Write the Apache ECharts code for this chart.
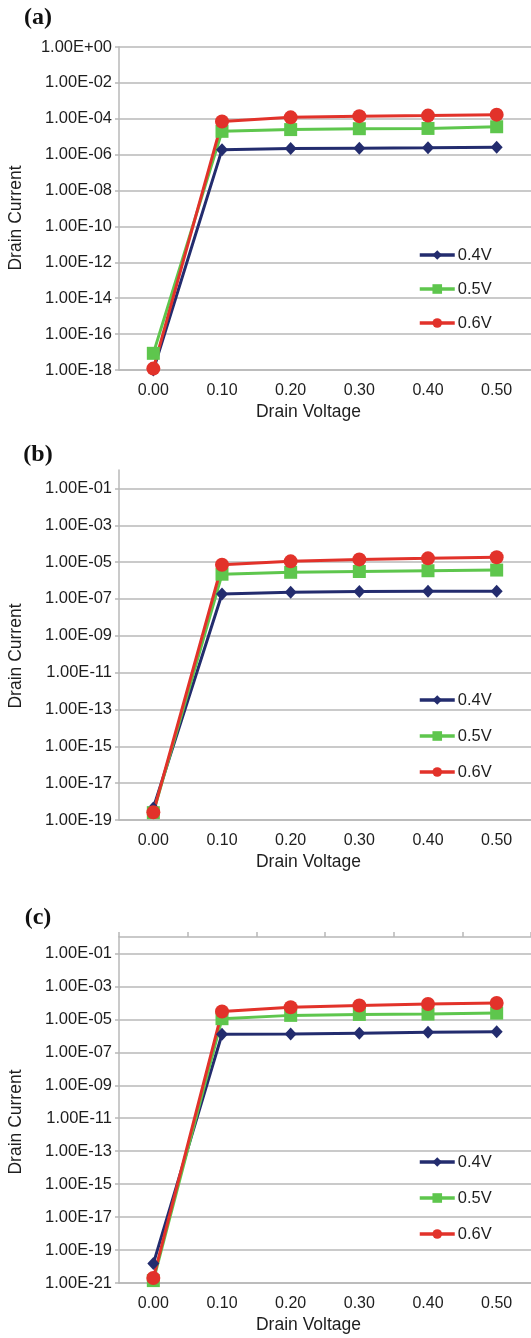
<!DOCTYPE html>
<html>
<head>
<meta charset="utf-8">
<script src="https://cdn.jsdelivr.net/npm/echarts@6/dist/echarts.min.js"></script>
<style>
  html, body { margin: 0; padding: 0; background: #ffffff; }
  #chart { width: 531px; height: 1338px; }
</style>
</head>
<body>
<div id="chart"></div>
<script>
// Drain voltage categories shared by all three panels
const drainVoltage = ['0.00', '0.10', '0.20', '0.30', '0.40', '0.50'];
const seriesNames = ['0.4V', '0.5V', '0.6V'];

// Panel (a) drain current (A)
const currentA_04 = [1.0e-18, 1.9e-6, 2.2e-6, 2.3e-6, 2.4e-6, 2.6e-6];
const currentA_05 = [8.5e-18, 2.0e-5, 2.5e-5, 2.8e-5, 2.9e-5, 3.6e-5];
const currentA_06 = [1.2e-18, 7.0e-5, 1.2e-4, 1.4e-4, 1.5e-4, 1.7e-4];

// Panel (b) drain current (A)
const currentB_04 = [4.5e-19, 1.85e-7, 2.3e-7, 2.5e-7, 2.6e-7, 2.6e-7];
const currentB_05 = [2.5e-19, 2.2e-6, 2.8e-6, 3.1e-6, 3.4e-6, 3.7e-6];
const currentB_06 = [2.6e-19, 7.2e-6, 1.1e-5, 1.4e-5, 1.6e-5, 1.85e-5];

// Panel (c) drain current (A)
const currentC_04 = [1.5e-20, 1.25e-6, 1.3e-6, 1.45e-6, 1.65e-6, 1.8e-6];
const currentC_05 = [1.4e-21, 1.1e-5, 1.75e-5, 2.0e-5, 2.1e-5, 2.4e-5];
const currentC_06 = [2.0e-21, 3.0e-5, 5.4e-5, 7.0e-5, 8.5e-5, 9.8e-5];

// Tick values on the log current axes
const ticksA = [1e-18, 1e-16, 1e-14, 1e-12, 1e-10, 1e-8, 1e-6, 1e-4, 1e-2, 1e0];
const ticksB = [1e-19, 1e-17, 1e-15, 1e-13, 1e-11, 1e-9, 1e-7, 1e-5, 1e-3, 1e-1];
const ticksC = [1e-21, 1e-19, 1e-17, 1e-15, 1e-13, 1e-11, 1e-9, 1e-7, 1e-5, 1e-3, 1e-1];

const NAVY = '#232c6e';
const GREEN = '#5ec64d';
const RED = '#e2322a';
const GRID_GRAY = '#b8b8b8';
const TEXT = '#1e1e1e';
const SANS = '"Liberation Sans", Arial, Helvetica, sans-serif';

// Excel-style scientific label, e.g. 1.00E-04
function sciLabel(v) {
  const e = Math.round(Math.log10(v));
  const a = Math.abs(e);
  return '1.00E' + (e < 0 ? '-' : '+') + (a < 10 ? '0' : '') + a;
}

const panels = [
  { top: 47,  height: 323, min: 1e-18, ticks: ticksA, data: [currentA_04, currentA_05, currentA_06] },
  { top: 470, height: 350, min: 1e-19, ticks: ticksB, data: [currentB_04, currentB_05, currentB_06] },
  { top: 937, height: 346, min: 1e-21, ticks: ticksC, data: [currentC_04, currentC_05, currentC_06] }
];

const styles = [
  { color: NAVY,  symbol: 'diamond', size: [12, 13] },
  { color: GREEN, symbol: 'rect',    size: 13 },
  { color: RED,   symbol: 'circle',  size: 14 }
];

const grid = [], xAxis = [], yAxis = [], series = [];

panels.forEach((p, i) => {
  grid.push({ left: 119, top: p.top, width: 414, height: p.height });
  xAxis.push({
    type: 'category', gridIndex: i, data: drainVoltage, boundaryGap: true,
    axisLine: { show: true, lineStyle: { color: GRID_GRAY, width: 1.5 } },
    axisTick: { show: false },
    axisLabel: { color: TEXT, fontSize: 16, fontFamily: SANS, margin: 13 },
    splitLine: { show: false }
  });
  yAxis.push({
    type: 'log', logBase: 10, gridIndex: i, min: p.min, max: 1,
    axisLine: { show: true, lineStyle: { color: GRID_GRAY, width: 1.5 } },
    axisTick: { show: true, inside: false, length: 4, customValues: p.ticks,
                lineStyle: { color: GRID_GRAY, width: 1.5 } },
    axisLabel: { customValues: p.ticks, formatter: sciLabel, color: TEXT,
                 fontSize: 16.5, fontFamily: SANS, margin: 7 },
    splitLine: { show: true, lineStyle: { color: GRID_GRAY, width: 1.5 } }
  });
  p.data.forEach((d, k) => {
    const s = styles[k];
    series.push({
      type: 'line', name: seriesNames[k], xAxisIndex: i, yAxisIndex: i, data: d,
      symbol: s.symbol, symbolSize: s.size, showAllSymbol: true,
      lineStyle: { color: s.color, width: 3 },
      itemStyle: { color: s.color },
      animation: false
    });
  });
});

// Category boundary ticks along the top edge of panel (c)
xAxis.push({
  type: 'category', gridIndex: 2, position: 'top', data: drainVoltage, boundaryGap: true,
  axisLine: { show: true, lineStyle: { color: GRID_GRAY, width: 1.5 } },
  axisTick: { show: true, inside: false, length: 5, lineStyle: { color: GRID_GRAY, width: 1.5 } },
  axisLabel: { show: false },
  splitLine: { show: false }
});

function legendAt(top, gap) {
  return {
    data: seriesNames, orient: 'vertical', left: 418, top: top, padding: 0,
    itemGap: gap, itemWidth: 35, itemHeight: 12, selectedMode: false,
    lineStyle: { width: 3.5 },
    textStyle: { color: TEXT, fontSize: 16.5, fontFamily: SANS, lineHeight: 18, padding: [0, 0, 0, -2] }
  };
}

function panelLabel(text, y) {
  return { type: 'text', x: 38, y: y,
    style: { text: text, font: 'bold 24px "Liberation Serif", "Times New Roman", serif',
             fill: '#111', textAlign: 'center', textVerticalAlign: 'middle' } };
}
function xTitle(y) {
  return { type: 'text', x: 308.5, y: y,
    style: { text: 'Drain Voltage', font: '17.5px ' + SANS, fill: TEXT,
             textAlign: 'center', textVerticalAlign: 'middle' } };
}
function yTitle(y) {
  return { type: 'text', x: 16, y: y, rotation: Math.PI / 2,
    style: { text: 'Drain Current', font: '17.5px ' + SANS, fill: TEXT,
             textAlign: 'center', textVerticalAlign: 'middle' } };
}

const chart = echarts.init(document.getElementById('chart'), null, { renderer: 'canvas' });
chart.setOption({
  backgroundColor: '#ffffff',
  animation: false,
  grid: grid,
  xAxis: xAxis,
  yAxis: yAxis,
  legend: [legendAt(246, 16), legendAt(691, 18), legendAt(1153, 18)],
  series: series,
  graphic: [
    panelLabel('(a)', 17.5), panelLabel('(b)', 455), panelLabel('(c)', 918),
    xTitle(412), xTitle(862), xTitle(1325),
    yTitle(218), yTitle(656), yTitle(1122)
  ]
});
</script>
</body>
</html>
